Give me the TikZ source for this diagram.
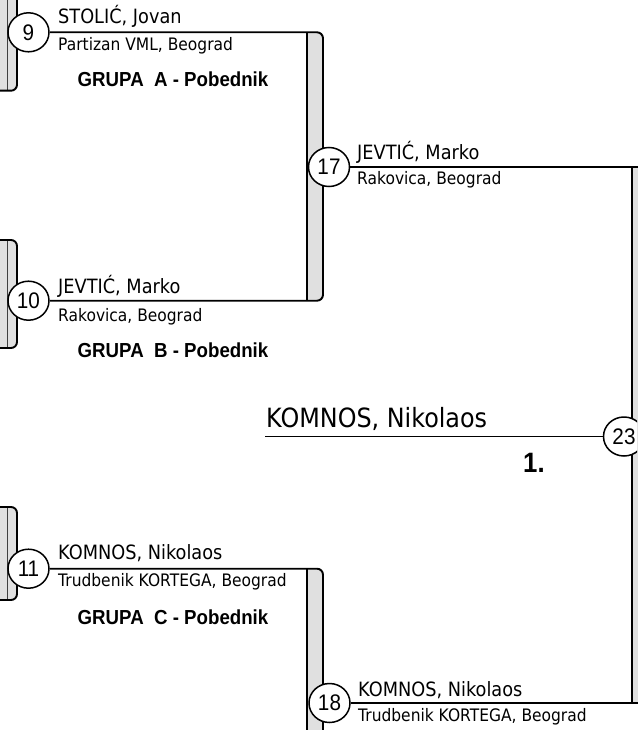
\documentclass[tikz,border=0pt]{standalone}
\usepackage{fontspec}
\usetikzlibrary{shapes.geometric,backgrounds}
\newfontfamily\dvsans{DejaVu Sans}[FakeStretch=0.9]
\newfontfamily\arsans{Liberation Sans}[FakeStretch=0.92]
\tikzset{
  seed/.style={draw, ellipse, fill=white, line width=1.5pt, minimum width=41pt,
    minimum height=39pt, inner sep=0pt, font=\arsans\fontsize{22.5}{22}\selectfont},
  player/.style={anchor=base west, inner sep=0pt, font=\dvsans\fontsize{19.7}{22}\selectfont},
  club/.style={anchor=base west, inner sep=0pt, font=\dvsans\fontsize{17.2}{20}\selectfont},
  winner/.style={anchor=base, inner sep=0pt, font=\arsans\bfseries\fontsize{20.3}{22}\selectfont},
  link/.style={line width=1.9pt, rounded corners=6pt},
  thin link/.style={line width=1pt, black!75},
  barfill/.style={fill=black!12, rounded corners=6pt},
}
\begin{document}
\begin{tikzpicture}[x=1pt,y=-1pt]
  \useasboundingbox (0,0) rectangle (637,730);
  \clip (0,0) rectangle (637,730);
  % match numbers
  \node[seed] (c9)  at (28.5,32.3)  {9};
  \node[seed] (c10) at (28.5,300.7) {10};
  \node[seed] (c11) at (28.5,568.7) {11};
  \node[seed] (c17) at (329,167)    {17};
  \node[seed] (c18) at (329.5,703)  {18};
  \node[seed] (c23) at (624,436.5)  {23};
  % players and clubs
  \node[player] (p9)  at (58,23.3)   {STOLIĆ, Jovan};
  \node[club]   (k9)  at (58,51)     {Partizan VML, Beograd};
  \node[winner] (gA)  at (173,87)    {GRUPA\ \ A - Pobednik};
  \node[player] (p17) at (357,159.3) {JEVTIĆ, Marko};
  \node[club]   (k17) at (357,185)   {Rakovica, Beograd};
  \node[player] (p10) at (58,293.3)  {JEVTIĆ, Marko};
  \node[club]   (k10) at (58,321.7)  {Rakovica, Beograd};
  \node[winner] (gB)  at (173,357)   {GRUPA\ \ B - Pobednik};
  \node[player, font=\dvsans\fontsize{26.5}{30}\selectfont] (p23) at (266,427) {KOMNOS, Nikolaos};
  \node[anchor=base west, inner sep=0pt, font=\arsans\bfseries\fontsize{28}{30}\selectfont] (r1) at (523,472.7) {1.};
  \node[player] (p11) at (58,559)    {KOMNOS, Nikolaos};
  \node[club]   (k11) at (58,586.7)  {Trudbenik KORTEGA, Beograd};
  \node[winner] (gC)  at (173,624)   {GRUPA\ \ C - Pobednik};
  \node[player] (p18) at (358,696)   {KOMNOS, Nikolaos};
  \node[club]   (k18) at (358,721)   {Trudbenik KORTEGA, Beograd};
  % bracket corners
  \coordinate (t17) at (323,32.3);
  \coordinate (b17) at (323,300.7);
  \coordinate (t18) at (323,568.7);
  \coordinate (b18) at (323,780);
  \coordinate (t23) at (650,167);
  \coordinate (b23) at (650,703);
  \coordinate (w23) at (265,436.5);
  \begin{pgfonlayer}{background}
    % grey bars
    \fill[barfill] (0,-20) -- (17,-20) -- (17,90.7) -- (0,90.7);
    \fill[barfill] (0,240) -- (17,240) -- (17,348) -- (0,348);
    \fill[barfill] (0,507) -- (17,507) -- (17,600) -- (0,600);
    \fill[barfill] (307,32.3) -- (323,32.3) -- (323,300.7) -- (307,300.7);
    \fill[barfill] (307,568.7) -- (323,568.7) -- (323,780) -- (307,780);
    \fill[black!12] (632,167) rectangle (650,703);
    % left column brackets
    \draw[thin link] (7,-20) -- (7,90.7);
    \draw[thin link] (7,240) -- (7,348);
    \draw[thin link] (7,507) -- (7,600);
    \draw[link] (17,-20) -- (17,90.7) -- (0,90.7);
    \draw[link] (0,240) -- (17,240) -- (17,348) -- (0,348);
    \draw[link] (0,507) -- (17,507) -- (17,600) -- (0,600);
    % semifinal brackets
    \draw[link] (c9) -- (t17) -- (b17) -- (c10);
    \draw[link] (307,32.3) -- (307,300.7);
    \draw[link] (c11) -- (t18) -- (b18);
    \draw[link] (307,568.7) -- (307,780);
    % final
    \draw[link] (c17) -- (t23);
    \draw[link] (c18) -- (b23);
    \draw[link] (632,167) -- (632,703);
    \draw[link] (c23) -- (w23);
  \end{pgfonlayer}
\end{tikzpicture}
\end{document}
